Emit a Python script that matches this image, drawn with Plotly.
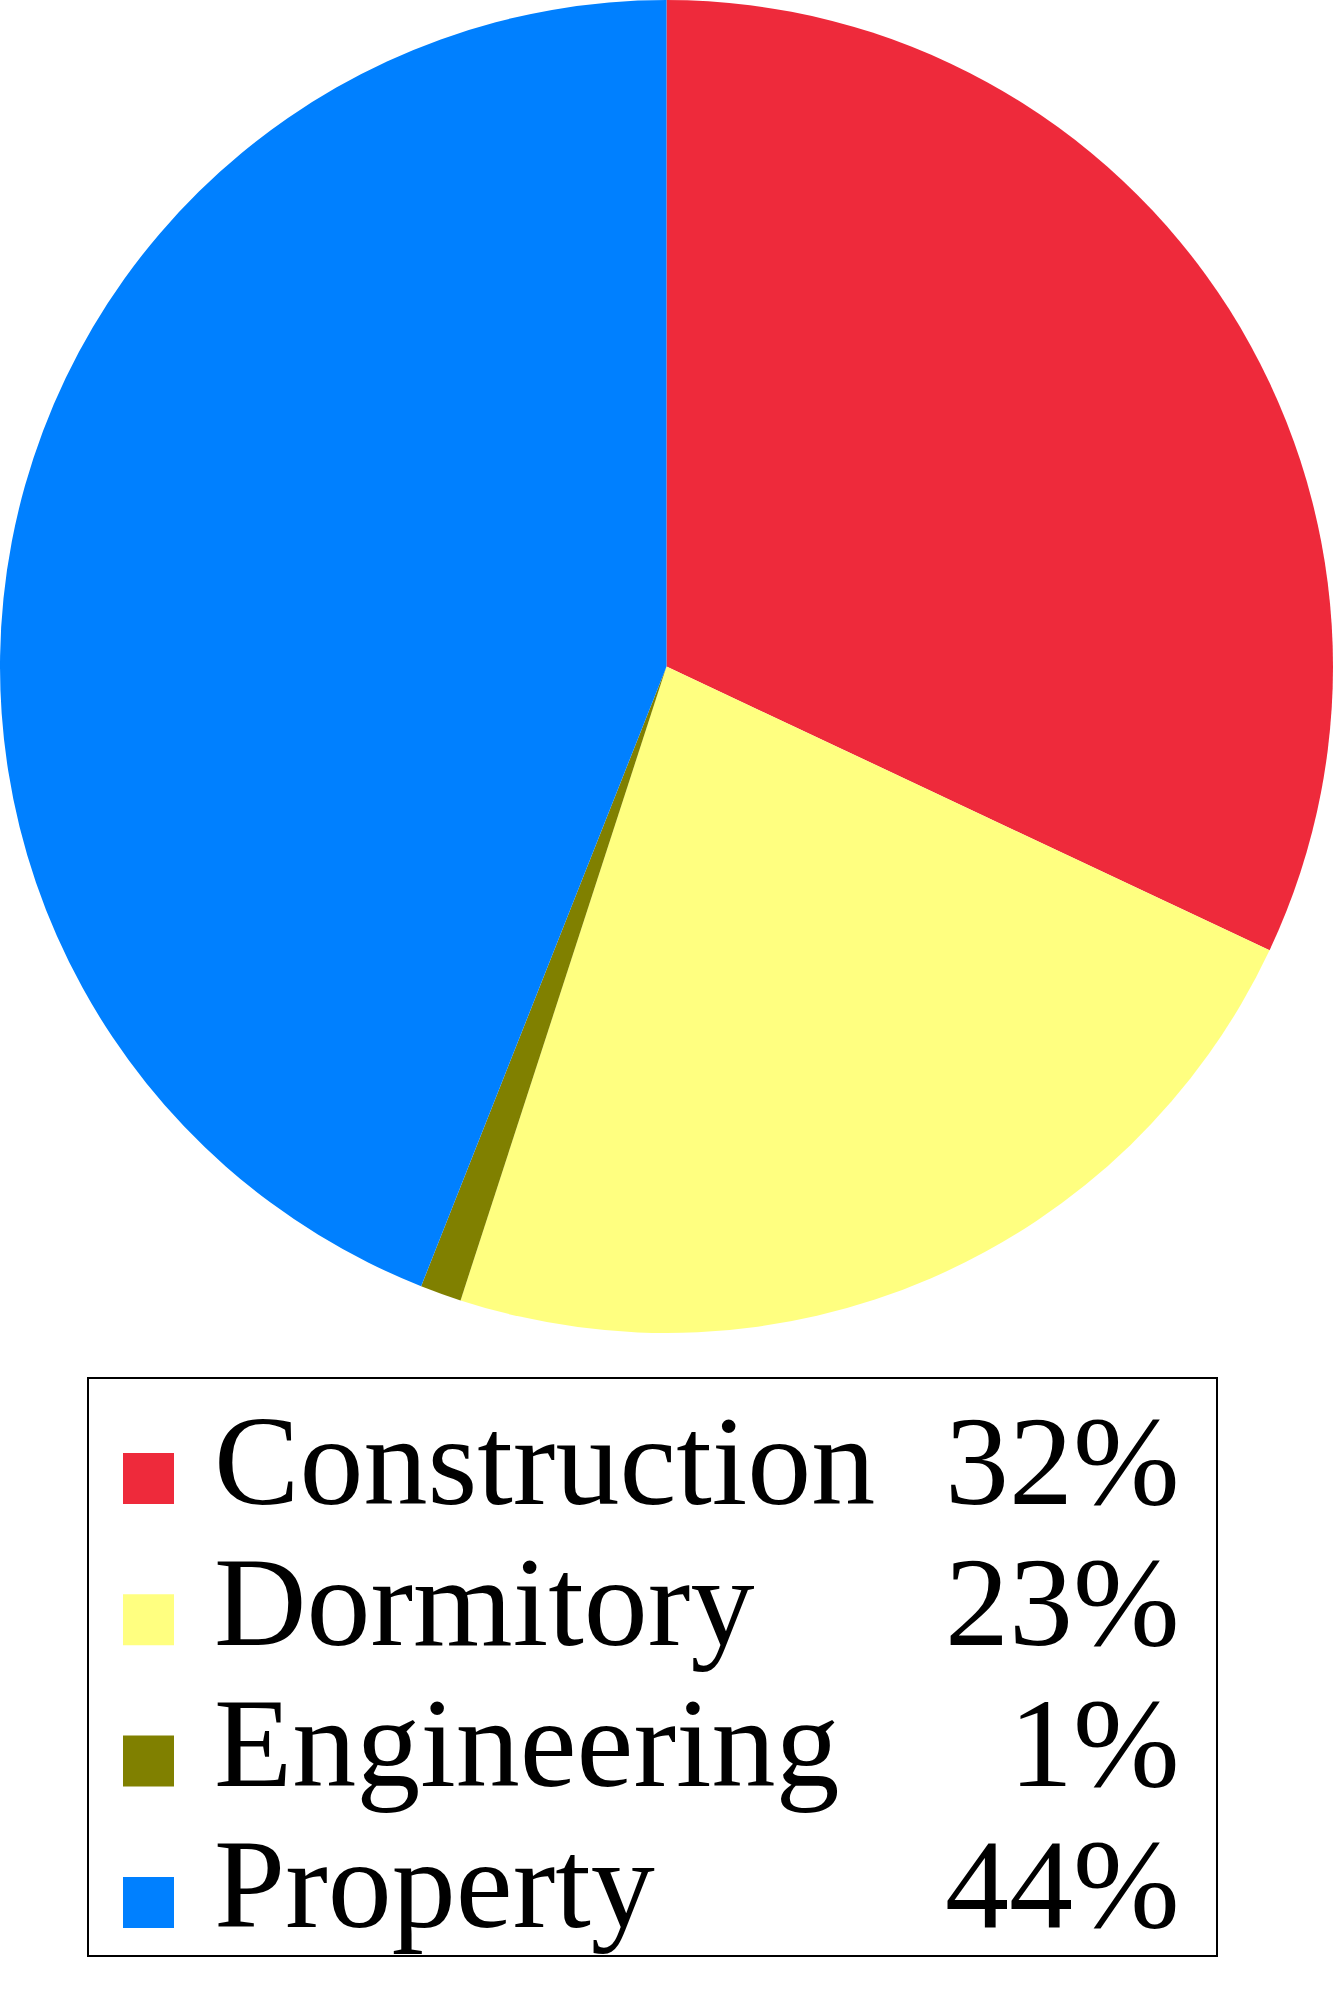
import plotly.graph_objects as go

# data
labels = ['Construction', 'Dormitory', 'Engineering', 'Property']
shares = [32, 23, 1, 44]
colors = ['#EE2A3B', '#FFFF80', '#808000', '#0080FF']

W, H = 1333, 2002
FONT = 'Liberation Serif'


def px_y(y):
    # pixel from top -> paper coordinate
    return 1 - y / H


fig = go.Figure(go.Pie(
    labels=labels,
    values=shares,
    marker=dict(colors=colors, line=dict(width=0)),
    sort=False,
    direction='clockwise',
    rotation=0,
    textinfo='none',
    showlegend=False,
    domain=dict(x=[0, 1], y=[px_y(W), 1]),
))

# hand-made legend box with right-aligned percentages
shapes = [dict(type='rect', xref='paper', yref='paper',
               x0=88 / W, x1=1217 / W, y0=px_y(1956), y1=px_y(1378),
               line=dict(color='black', width=2), fillcolor='white')]
annotations = []
row_top, row_step, sq = 1453, 141.3, 51
for i, (lab, val, col) in enumerate(zip(labels, shares, colors)):
    top = row_top + i * row_step
    mid = top + sq / 2
    shapes.append(dict(type='rect', xref='paper', yref='paper',
                       x0=123 / W, x1=(123 + sq) / W,
                       y0=px_y(top + sq), y1=px_y(top),
                       line=dict(width=0), fillcolor=col))
    annotations.append(dict(text=lab, xref='paper', yref='paper',
                            x=212 / W, y=px_y(mid - 18), xanchor='left', yanchor='middle',
                            showarrow=False, font=dict(family=FONT, size=128, color='black')))
    annotations.append(dict(text=f'{val}%', xref='paper', yref='paper',
                            x=1182 / W, y=px_y(mid - 18), xanchor='right', yanchor='middle',
                            showarrow=False, font=dict(family=FONT, size=128, color='black')))

fig.update_layout(
    width=W, height=H,
    margin=dict(l=0, r=0, t=0, b=0),
    paper_bgcolor='white',
    plot_bgcolor='white',
    shapes=shapes,
    annotations=annotations,
)

# drop the default page margin so the figure sits at the window's corner
fig.write_html("out.html", config={'displayModeBar': False},
               post_script="document.body.style.margin='0';")
